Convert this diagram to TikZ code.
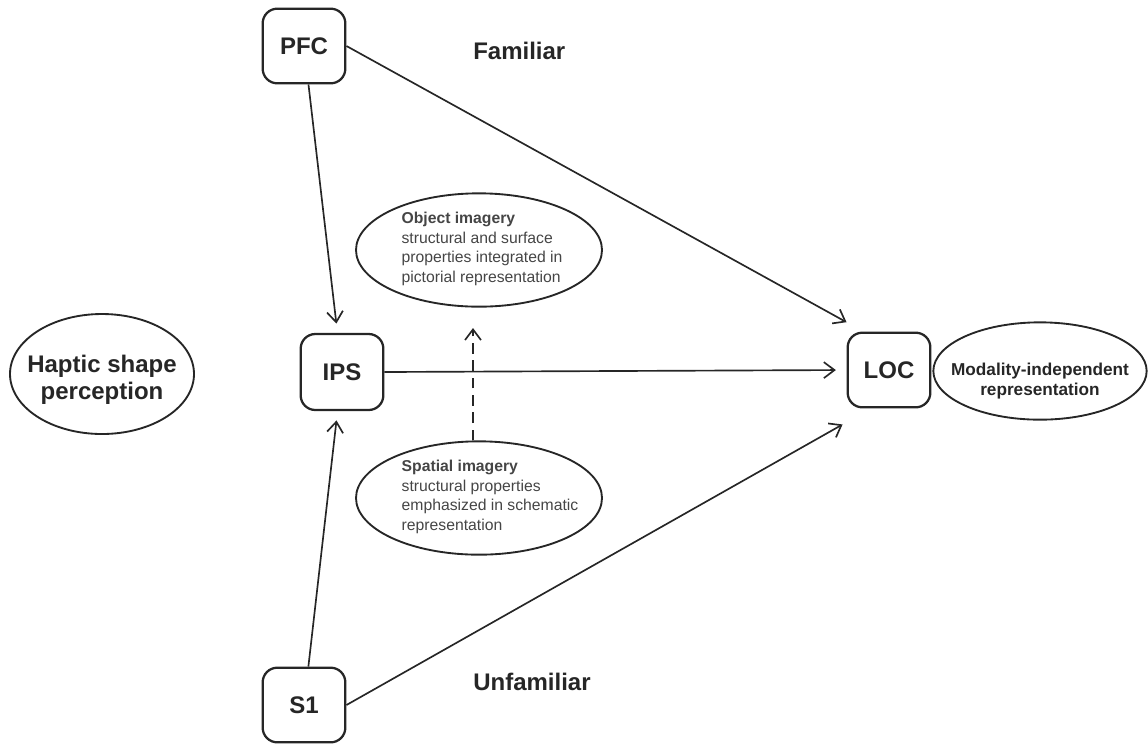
\documentclass[tikz,border=0pt]{standalone}
\usepackage{fontspec}
\setmainfont{Liberation Sans}
\usetikzlibrary{arrows.meta,shapes.geometric,calc}
\definecolor{ink}{HTML}{262626}
\definecolor{soft}{HTML}{454545}
\tikzset{
  region/.style={draw=ink,line width=1.7pt,rounded corners=11pt,minimum width=62pt,minimum height=56pt,inner sep=0pt,font=\fontsize{18}{21}\selectfont\bfseries,text=ink},
  oval/.style={draw=ink,line width=1.4pt,ellipse,inner sep=0pt},
  bigtxt/.style={align=center,font=\fontsize{18}{20.5}\selectfont\bfseries,text=ink,inner sep=0pt},
  smalltxt/.style={align=left,font=\fontsize{11.8}{14.6}\selectfont,text=soft,inner sep=0pt},
  midtxt/.style={align=center,font=\fontsize{12.9}{15}\selectfont\bfseries,text=ink,inner sep=0pt},
  arr/.style={draw=ink,line width=1.25pt,-{Straight Barb[length=8pt,width=12pt,line width=1.25pt]}},
  dasharr/.style={arr,dash pattern=on 8pt off 5pt},
}
\begin{document}
\begin{tikzpicture}[x=0.75pt,y=-0.75pt]
\useasboundingbox (0,0) rectangle (1148,744);
% boxes
\node[region] (pfc) at (304,46) {PFC};
\node[region,minimum height=57pt] (ips) at (342,372) {IPS};
\node[region] (s1) at (304,705) {S1};
\node[region] (loc) at (889,370) {LOC};
% ellipses
\node[oval,minimum width=138pt,minimum height=90pt] (haptic) at (102,374) {};
\node[bigtxt] (haptictxt) at (102,380) {Haptic shape\\perception};
\node[oval,minimum width=160pt,minimum height=73pt] (modal) at (1040,371) {};
\node[midtxt] (modaltxt) at (1040,381) {Modality-independent\\representation};
\node[oval,minimum width=184.5pt,minimum height=85pt] (obj) at (479,250) {};
\node[smalltxt] (objtxt) at (482,249) {\textbf{Object imagery}\\structural and surface\\properties integrated in\\pictorial representation};
\node[oval,minimum width=184.5pt,minimum height=85pt] (spatial) at (479,498) {};
\node[smalltxt] (spatxt) at (490,497) {\textbf{Spatial imagery}\\structural properties\\emphasized in schematic\\representation};
% labels
\node[bigtxt,anchor=base west] (fam) at (473,59) {Familiar};
\node[bigtxt,anchor=base west] (unfam) at (473,690) {Unfamiliar};
% connectors
\coordinate (dtip) at (473,328);
\draw[arr,shorten >=7pt] (pfc) -- (ips);
\draw[arr,shorten >=7pt] (s1) -- (ips);
\draw[arr] (pfc.east) -- ([yshift=7pt]loc.north west);
\draw[arr] (s1.east) -- ([xshift=-3pt,yshift=-12pt]loc.south west);
\draw[arr,shorten >=8pt] (ips.east) -- (loc.west);
\draw[dasharr] (dtip |- spatial.north) -- (dtip);
\end{tikzpicture}
\end{document}
